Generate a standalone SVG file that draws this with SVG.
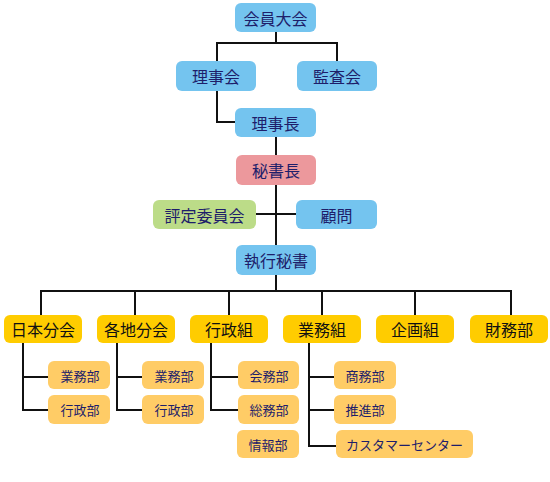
<svg xmlns="http://www.w3.org/2000/svg" width="550" height="482" viewBox="0 0 550 482">
<style>
.blue{fill:#74C4EF}
.pink{fill:#EC989C}
.green{fill:#BCDC88}
.gold{fill:#FFCC00}
.sub{fill:#FFCC66}
text{font-family:"Noto Sans CJK JP",sans-serif;text-anchor:middle;dominant-baseline:central}
.t{font-size:16px;fill:#1E1E6A}
.tg{font-size:16px;fill:#111111}
.ts{font-size:13px;fill:#1E1E6A}
.c{fill:none;stroke:#111111;stroke-width:2}
</style>
<g id="connectors">
<path class="c" d="M276,32V43M217,61V43H337V61"/>
<path class="c" d="M217,91V122H235"/>
<path class="c" d="M276,137V155M276,185V245M256,214H296"/>
<path class="c" d="M276,275V291M41,315V291H511V315M135,291V315M229,291V315M322,291V315M415,291V315"/>
<path class="c" d="M23,343V410H48M23,377H48"/>
<path class="c" d="M117,343V410H142M117,377H142"/>
<path class="c" d="M211,343V410H238M211,377H238"/>
<path class="c" d="M309,343V446H336M309,377H334M309,410H334"/>
</g>
<g id="n-kaiin"><rect class="blue" x="235" y="3" width="81" height="29" rx="6"/><text class="t" x="275.5" y="18">会員大会</text></g>
<g id="n-rijikai"><rect class="blue" x="176" y="61" width="80" height="30" rx="6"/><text class="t" x="216" y="76">理事会</text></g>
<g id="n-kansa"><rect class="blue" x="297" y="61" width="80" height="30" rx="6"/><text class="t" x="337" y="76">監査会</text></g>
<g id="n-rijicho"><rect class="blue" x="235" y="108" width="81" height="29" rx="6"/><text class="t" x="275.5" y="123">理事長</text></g>
<g id="n-hishocho"><rect class="pink" x="236" y="155" width="80" height="30" rx="6"/><text class="t" x="276" y="170">秘書長</text></g>
<g id="n-hyotei"><rect class="green" x="153" y="200" width="103" height="29" rx="6"/><text class="t" x="204.5" y="215">評定委員会</text></g>
<g id="n-komon"><rect class="blue" x="296" y="200" width="81" height="29" rx="6"/><text class="t" x="336.5" y="215">顧問</text></g>
<g id="n-shikko"><rect class="blue" x="236" y="245" width="80" height="30" rx="6"/><text class="t" x="276" y="260">執行秘書</text></g>
<g id="n-nihon"><rect class="gold" x="4" y="315" width="78" height="28" rx="6"/><text class="tg" x="43" y="329">日本分会</text></g>
<g id="n-kakuchi"><rect class="gold" x="97" y="315" width="78" height="28" rx="6"/><text class="tg" x="136" y="329">各地分会</text></g>
<g id="n-gyoseigumi"><rect class="gold" x="190" y="315" width="78" height="28" rx="6"/><text class="tg" x="229" y="329">行政組</text></g>
<g id="n-gyomugumi"><rect class="gold" x="283" y="315" width="78" height="28" rx="6"/><text class="tg" x="322" y="329">業務組</text></g>
<g id="n-kikaku"><rect class="gold" x="376" y="315" width="78" height="28" rx="6"/><text class="tg" x="415" y="329">企画組</text></g>
<g id="n-zaimu"><rect class="gold" x="470" y="315" width="78" height="28" rx="6"/><text class="tg" x="509" y="329">財務部</text></g>
<g id="n-nihon-gyomu"><rect class="sub" x="48" y="361" width="62" height="28" rx="6"/><text class="ts" x="80" y="375">業務部</text></g>
<g id="n-nihon-gyosei"><rect class="sub" x="48" y="395" width="62" height="29" rx="6"/><text class="ts" x="80" y="409.5">行政部</text></g>
<g id="n-kakuchi-gyomu"><rect class="sub" x="142" y="361" width="62" height="28" rx="6"/><text class="ts" x="174" y="375">業務部</text></g>
<g id="n-kakuchi-gyosei"><rect class="sub" x="142" y="395" width="62" height="29" rx="6"/><text class="ts" x="174" y="409.5">行政部</text></g>
<g id="n-kaimu"><rect class="sub" x="238" y="361" width="61" height="28" rx="6"/><text class="ts" x="269" y="375">会務部</text></g>
<g id="n-somu"><rect class="sub" x="238" y="395" width="61" height="29" rx="6"/><text class="ts" x="269" y="409.5">総務部</text></g>
<g id="n-joho"><rect class="sub" x="237" y="430" width="62" height="28" rx="6"/><text class="ts" x="268" y="444">情報部</text></g>
<g id="n-shomu"><rect class="sub" x="334" y="361" width="62" height="28" rx="6"/><text class="ts" x="365" y="375">商務部</text></g>
<g id="n-suishin"><rect class="sub" x="334" y="395" width="62" height="29" rx="6"/><text class="ts" x="365" y="409.5">推進部</text></g>
<g id="n-customer"><rect class="sub" x="336" y="430" width="137" height="28" rx="6"/><text class="ts" x="404.5" y="444">カスタマーセンター</text></g>
</svg>
